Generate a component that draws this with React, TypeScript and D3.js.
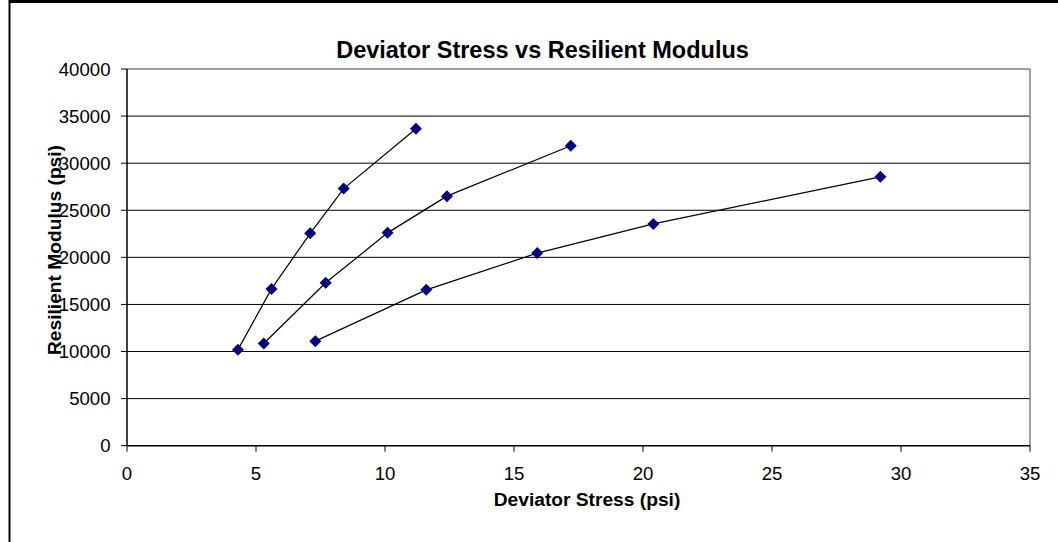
import React from "react";
import * as d3 from "d3";

const stress1 = [4.3, 5.6, 7.1, 8.4, 11.2];
const modulus1 = [10200, 16650, 22550, 27300, 33650];
const stress2 = [5.3, 7.7, 10.1, 12.4, 17.2];
const modulus2 = [10850, 17300, 22600, 26500, 31850];
const stress3 = [7.3, 11.6, 15.9, 20.4, 29.2];
const modulus3 = [11100, 16550, 20450, 23550, 28550];

const xTicks = [0, 5, 10, 15, 20, 25, 30, 35];
const yTicks = [0, 5000, 10000, 15000, 20000, 25000, 30000, 35000, 40000];

const title = "Deviator Stress vs Resilient Modulus";
const xLabel = "Deviator Stress (psi)";
const yLabel = "Resilient Modulus (psi)";

const W = 1058;
const H = 542;
const left = 127;
const right = 1030;
const top = 69;
const bottom = 445.7;

export default function App() {
  const x = d3.scaleLinear().domain([0, 35]).range([left, right]);
  const y = d3.scaleLinear().domain([0, 40000]).range([bottom, top]);
  const series = [
    stress1.map((s, i) => [s, modulus1[i]]),
    stress2.map((s, i) => [s, modulus2[i]]),
    stress3.map((s, i) => [s, modulus3[i]]),
  ];
  const line = d3
    .line<number[]>()
    .x((d) => x(d[0]))
    .y((d) => y(d[1]));
  const font = "Arial, 'Liberation Sans', sans-serif";
  const r = 6;
  return (
    <div style={{ position: "absolute", left: 0, top: 0 }}>
      <svg width={W} height={H} style={{ display: "block", fontFamily: font }}>
        <rect x={0} y={0} width={W} height={H} fill="#fff" />
        {/* chart frame */}
        <line x1={9} x2={W} y1={1.5} y2={1.5} stroke="#000" strokeWidth={3} />
        <line x1={9.5} x2={9.5} y1={0} y2={H} stroke="#000" strokeWidth={2} />
        {/* gridlines */}
        {yTicks.slice(1, -1).map((t) => (
          <line key={"g" + t} x1={left} x2={right} y1={y(t)} y2={y(t)} stroke="#000" strokeWidth={1} />
        ))}
        {/* plot border top/right */}
        <line x1={left} x2={right} y1={top} y2={top} stroke="#808080" strokeWidth={1.5} />
        <line x1={right} x2={right} y1={top} y2={bottom} stroke="#808080" strokeWidth={1.5} />
        {/* axes */}
        <line x1={left} x2={right} y1={bottom} y2={bottom} stroke="#000" strokeWidth={1.5} />
        <line x1={left} x2={left} y1={top} y2={bottom} stroke="#000" strokeWidth={1.5} />
        {yTicks.map((t) => (
          <g key={"y" + t}>
            <line x1={left - 6} x2={left} y1={y(t)} y2={y(t)} stroke="#000" strokeWidth={1} />
            <text x={110.5} y={y(t) + 6.5} textAnchor="end" fontSize={18.6} fill="#000">
              {t}
            </text>
          </g>
        ))}
        {xTicks.map((t) => (
          <g key={"x" + t}>
            <line x1={x(t)} x2={x(t)} y1={bottom} y2={bottom + 6} stroke="#000" strokeWidth={1} />
            <text x={x(t)} y={bottom + 34} textAnchor="middle" fontSize={18.6} fill="#000">
              {t}
            </text>
          </g>
        ))}
        {/* series */}
        {series.map((s, i) => (
          <g key={"s" + i}>
            <path d={line(s) || ""} fill="none" stroke="#000" strokeWidth={1.2} />
            {s.map((d, j) => {
              const cx = x(d[0]);
              const cy = y(d[1]);
              return (
                <path
                  key={j}
                  d={`M${cx},${cy - r}L${cx + r},${cy}L${cx},${cy + r}L${cx - r},${cy}Z`}
                  fill="#000080"
                />
              );
            })}
          </g>
        ))}
        {/* titles */}
        <text x={542.5} y={58} textAnchor="middle" fontSize={23.5} fontWeight="bold" fill="#000">
          {title}
        </text>
        <text x={587} y={506} textAnchor="middle" fontSize={19.2} fontWeight="bold" fill="#000">
          {xLabel}
        </text>
        <text
          transform={`translate(61,250) rotate(-90)`}
          textAnchor="middle"
          fontSize={19.2}
          fontWeight="bold"
          fill="#000"
        >
          {yLabel}
        </text>
      </svg>
    </div>
  );
}
